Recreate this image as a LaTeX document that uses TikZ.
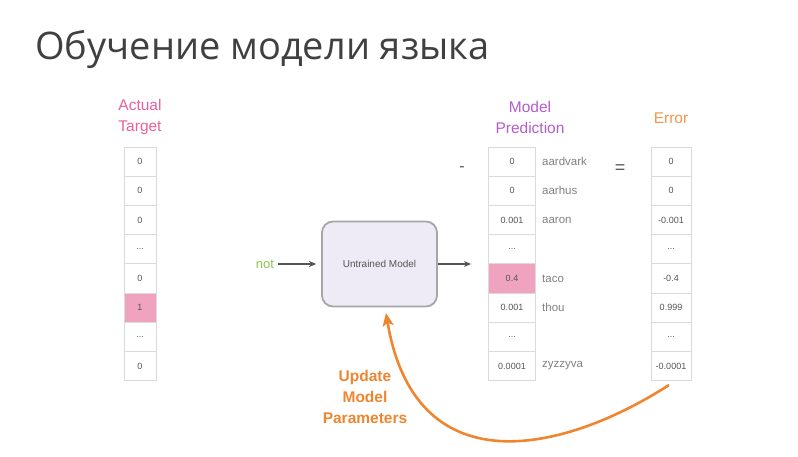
\documentclass[tikz,border=0pt]{standalone}
\usepackage{fontspec}
\setmainfont{Liberation Sans}
\newfontfamily\titlefont{Open Sans}
\usetikzlibrary{arrows.meta}
\definecolor{titlegray}{HTML}{404040}
\definecolor{txtgray}{HTML}{555555}
\definecolor{wordgray}{HTML}{808080}
\definecolor{cellline}{HTML}{DADADA}
\definecolor{hotpink}{HTML}{F0A3BF}
\definecolor{targetpink}{HTML}{E8609A}
\definecolor{predpurple}{HTML}{B35CCB}
\definecolor{errorange}{HTML}{F2964A}
\definecolor{updorange}{HTML}{F08530}
\definecolor{notgreen}{HTML}{8DC351}
\definecolor{boxfill}{HTML}{EFEBF6}
\definecolor{boxline}{HTML}{A6A6A6}
\newcommand\skipcell{...}
\tikzset{
  cellbox/.style={draw=cellline, line width=0.8pt, fill=white, inner sep=0pt,
    minimum height=29.2pt, text=txtgray, font=\fontsize{9}{10}\selectfont},
  tcell/.style={cellbox, minimum width=32pt},
  pcell/.style={cellbox, minimum width=47pt},
  ecell/.style={cellbox, minimum width=40pt},
  hot/.style={fill=hotpink},
  plain/.style={},
  word/.style={anchor=west, text=wordgray, font=\fontsize{11.5}{12}\selectfont, inner sep=0pt},
  head/.style={align=center, font=\fontsize{15.5}{21}\selectfont, inner sep=0pt},
  flow/.style={draw=txtgray, line width=1.3pt, -{Stealth[length=7pt,width=6pt]}},
}
\begin{document}
\begin{tikzpicture}[x=1pt,y=-1pt]
\useasboundingbox (0,0) rectangle (798,457);
% title
\node[anchor=base west, inner sep=0pt, text=titlegray, font=\titlefont\fontsize{38}{40}\selectfont] (title) at (35,60) {Обучение модели языка};

% column headings
\node[head, text=targetpink] (thead) at (140,117) {Actual\\Target};
\node[head, text=predpurple] (phead) at (530,117) {Model\\Prediction};
\node[head, text=errorange] (ehead) at (671,118) {Error};

% actual target column
\foreach \i/\v/\s in {1/0/plain,2/0/plain,3/0/plain,4/\skipcell/plain,5/0/plain,6/1/hot,7/\skipcell/plain,8/0/plain}
  \node[tcell,\s] (t\i) at (140,{147+29.2*(\i-0.5)}) {\v};

% prediction column with vocabulary words
\foreach \i/\v/\s in {1/0/plain,2/0/plain,3/0.001/plain,4/\skipcell/plain,5/0.4/hot,6/0.001/plain,7/\skipcell/plain,8/0.0001/plain}
  \node[pcell,\s] (p\i) at (512,{147+29.2*(\i-0.5)}) {\v};
\foreach \i/\w in {1/aardvark,2/aarhus,3/aaron,5/taco,6/thou,8/zyzzyva}
  \node[word] (w\i) at (542,{147+29.2*(\i-0.5)}) {\w};

% error column
\foreach \i/\v in {1/0,2/0,3/-0.001,4/\skipcell,5/-0.4,6/0.999,7/\skipcell,8/-0.0001}
  \node[ecell] (e\i) at (671,{147+29.2*(\i-0.5)}) {\v};

% operators
\node[text=txtgray, font=\fontsize{16}{16}\selectfont] (minus) at (462,169) {-};
\node[text=txtgray, font=\fontsize{18}{18}\selectfont] (equals) at (620,169) {=};

% model
\node[draw=boxline, fill=boxfill, line width=1.8pt, rounded corners=11pt,
      minimum width=115pt, minimum height=85pt, text=txtgray,
      font=\fontsize{10}{12}\selectfont] (model) at (379.5,264) {Untrained Model};
\node[text=notgreen, font=\fontsize{13}{14}\selectfont, inner sep=0pt] (word) at (265,264) {not};
\coordinate (predin) at (471,264);
\draw[flow] ([xshift=4pt]word.east) -- ([xshift=-5pt]model.west);
\draw[flow] (model.east) -- (predin);

% feedback
\coordinate (errbase) at (669,385);
\coordinate (modelbase) at (386,313);
\draw[updorange, line width=2.6pt, -{Stealth[length=13pt,width=11pt,inset=3pt]}]
  (errbase) .. controls (560,455) and (415,485) .. (modelbase);
\node[align=center, text=updorange, font=\bfseries\fontsize{15.5}{21}\selectfont] (upd) at (365,397) {Update\\Model\\Parameters};
\end{tikzpicture}
\end{document}
